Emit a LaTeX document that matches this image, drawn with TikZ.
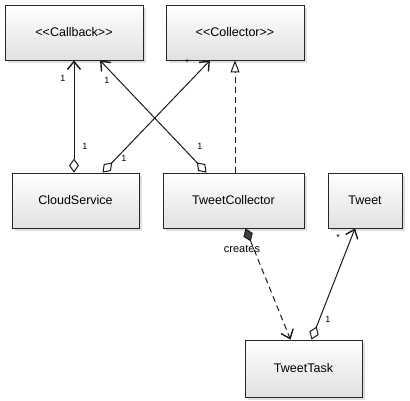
\documentclass[tikz,border=0pt]{standalone}
\usepackage{fontspec}
\setmainfont{Liberation Sans}
\usetikzlibrary{arrows.meta,shadows,calc}

\newcommand{\stl}{\mbox{<}\mbox{<}}
\newcommand{\str}{\mbox{>}\mbox{>}}

\tikzset{
  cls/.style={draw=black!85, line width=0.8pt, top color=white, bottom color=black!12,
    drop shadow={shadow xshift=3pt, shadow yshift=-3pt, opacity=0.25},
    minimum height=55pt, inner sep=0pt, font=\fontsize{12.5}{14}\selectfont},
  mult/.style={inner sep=0pt, font=\fontsize{9}{10}\selectfont},
  link/.style={line width=1pt, draw=black!90},
  agg/.style={link, {Diamond[open,length=14pt,width=10pt]}-{Straight Barb[length=8pt,width=13pt,line width=1.4pt]}},
  comp/.style={link, dash pattern=on 6pt off 4pt, {Diamond[length=14pt,width=10pt,fill=black!75]}-{Straight Barb[length=8pt,width=13pt,line width=1.4pt]}},
  impl/.style={link, dash pattern=on 6pt off 4pt, -{Triangle[open,length=12pt,width=9pt]}}
}

\begin{document}
\begin{tikzpicture}[x=1pt, y=-1pt]
            \useasboundingbox (0,0) rectangle (410,400);
            \node[cls, minimum width=138pt] (cb) at (74, 32.5) {\stl Callback\str};
            \node[cls, minimum width=138pt] (col) at (235, 32.5) {\stl Collector\str};
            \node[cls, minimum width=127pt] (cs) at (75.5, 200.5) {CloudService};
            \node[cls, minimum width=141pt] (tc) at (233.5, 200.5) {TweetCollector};
            \node[cls, minimum width=74pt] (tw) at (365, 200.5) {Tweet};
            \node[cls, minimum width=117pt, minimum height=57pt] (tt) at (303.5, 368.5) {TweetTask};
            \draw[agg] (cb.south |- cs.north) to (cb.south);
            \draw[agg] ($(cs.north)+(27,0)$) to ($(col.south)+(-25,0)$);
            \draw[agg] ($(tc.north)+(-27,0)$) to ($(cb.south)+(26,0)$);
            \draw[impl] (col.south |- tc.north) to (col.south);
            \draw[comp] ($(tc.south)+(12,0)$) to ($(tt.north)+(-13,0)$);
            \draw[agg] ($(tt.north)+(8,0)$) to ($(tw.south)+(-10,0)$);
            \node[mult] (m1) at (63, 78) {1};
            \node[mult] (m2) at (85, 146) {1};
            \node[mult] (m3) at (107, 80) {1};
            \node[mult] (m4) at (200, 146) {1};
            \node[mult] (m5) at (187, 62) {*};
            \node[mult] (m6) at (124, 158) {1};
            \node[mult] (m7) at (338, 237) {*};
            \node[mult] (m8) at (328, 319) {1};
            \node[inner sep=0pt, font=\fontsize{11}{12}\selectfont] (cr) at (242, 249) {creates};
    \end{tikzpicture}
\end{document}
